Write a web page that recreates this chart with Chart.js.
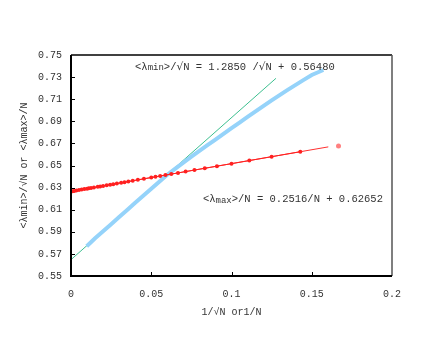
<!DOCTYPE html>
<html>
<head>
<meta charset="utf-8">
<script src="https://cdn.jsdelivr.net/npm/chart.js@4.4.0/dist/chart.umd.min.js"></script>
<style>
	html, body { margin: 0; padding: 0; background: #fff; }
	canvas { display: block; }
</style>
</head>
<body>
<canvas id="c" width="436" height="337"></canvas>
<script>
/* ---------- data ---------- */
// <lmax>/N against 1/N
const maxX = [0.142857, 0.125, 0.111111, 0.1, 0.090909, 0.083333, 0.076923, 0.071429, 0.066667, 0.0625,
	0.058824, 0.055556, 0.052632, 0.05, 0.045455, 0.041667, 0.038462, 0.035714, 0.033333, 0.03125,
	0.028571, 0.026316, 0.02439, 0.022222, 0.02, 0.018182, 0.016667, 0.014286, 0.0125, 0.011111,
	0.01, 0.008333, 0.006667, 0.005, 0.003333, 0.002, 0.001];
const maxY = [0.66246, 0.65797, 0.65448, 0.65168, 0.64939, 0.64749, 0.64587, 0.64449, 0.64329, 0.64225,
	0.64132, 0.6405, 0.63976, 0.6391, 0.63796, 0.637, 0.6362, 0.63551, 0.63491, 0.63438,
	0.63371, 0.63314, 0.63266, 0.63211, 0.63155, 0.6311, 0.63071, 0.63011, 0.62967, 0.62932,
	0.62904, 0.62862, 0.6282, 0.62778, 0.62736, 0.62702, 0.62677];
const maxOutX = [0.166667];
const maxOutY = [0.6676];
const maxFitX = [0, 0.1603];
const maxFitY = [0.62652, 0.66685];

// <lmin>/sqrt(N) against 1/sqrt(N)
const minX = [0.0098, 0.015, 0.02, 0.025, 0.03, 0.035, 0.04, 0.045, 0.05, 0.055,
	0.06, 0.065, 0.07, 0.075, 0.08, 0.085, 0.09, 0.095, 0.1, 0.105,
	0.11, 0.115, 0.12, 0.125, 0.13, 0.135, 0.14, 0.145, 0.15, 0.1572];
const minY = [0.5769, 0.5841, 0.5905, 0.5969, 0.6034, 0.6098, 0.6162, 0.6226, 0.629, 0.6354,
	0.6416, 0.6472, 0.6526, 0.6580, 0.6632, 0.6684, 0.6735, 0.6787, 0.6838, 0.6889,
	0.6940, 0.6990, 0.7040, 0.7089, 0.7137, 0.7184, 0.7230, 0.7275, 0.7319, 0.7364];
const minFitX = [0, 0.1277];
const minFitY = [0.5648, 0.7289];

const xTicks = [0, 0.05, 0.1, 0.15, 0.2];
const yTicks = [0.55, 0.57, 0.59, 0.61, 0.63, 0.65, 0.67, 0.69, 0.71, 0.73, 0.75];

const FONT = '"Liberation Mono", "DejaVu Sans Mono", monospace';
const TXT = '#333';

function pts(xs, ys) { return xs.map((x, i) => ({ x: x, y: ys[i] })); }

/* ---------- plugin: frame, inner ticks, fit labels ---------- */
const framePlugin = {
	id: 'frame',
	afterDatasetsDraw(chart) {
		const { ctx, chartArea: a, scales: { x, y } } = chart;
		ctx.save();
		ctx.strokeStyle = '#000';
		ctx.lineWidth = 1;
		xTicks.slice(1, -1).forEach(v => {
			const px = Math.round(x.getPixelForValue(v)) + 0.5;
			ctx.beginPath(); ctx.moveTo(px, a.bottom); ctx.lineTo(px, a.bottom - 4); ctx.stroke();
		});
		yTicks.slice(1, -1).forEach(v => {
			const py = Math.round(y.getPixelForValue(v)) + 0.5;
			ctx.beginPath(); ctx.moveTo(a.left, py); ctx.lineTo(a.left + 4, py); ctx.stroke();
		});
		ctx.lineWidth = 1.5;
		ctx.strokeStyle = '#000';
		ctx.beginPath();
		ctx.moveTo(a.left, a.top); ctx.lineTo(a.right, a.top);
		ctx.stroke();
		ctx.strokeStyle = '#555';
		ctx.beginPath();
		ctx.moveTo(a.right, a.top); ctx.lineTo(a.right, a.bottom);
		ctx.stroke();
		ctx.lineWidth = 2;
		ctx.strokeStyle = '#000';
		ctx.beginPath();
		ctx.moveTo(a.left, a.top); ctx.lineTo(a.left, a.bottom); ctx.lineTo(a.right, a.bottom);
		ctx.stroke();

		// fit equations
		drawEq(ctx, x.getPixelForValue(0.0399), y.getPixelForValue(0.7391), 'min', '>/√N = 1.2850 /√N + 0.56480');
		drawEq(ctx, x.getPixelForValue(0.0822), y.getPixelForValue(0.6194), 'max', '>/N = 0.2516/N + 0.62652');
		ctx.restore();
	}
};

// draws text piece by piece, the root sign in a font that has it
function drawRun(ctx, s, x, y, size) {
	s.split(/(√)/).forEach(part => {
		if (!part) return;
		ctx.font = size + 'px ' + (part === '√' ? '"DejaVu Sans"' : FONT);
		ctx.fillText(part, x, y);
		x += ctx.measureText(part).width;
	});
	return x;
}

function drawEq(ctx, x0, y0, sub, rest) {
	ctx.fillStyle = TXT;
	ctx.textBaseline = 'middle';
	ctx.textAlign = 'left';
	let x = drawRun(ctx, '<λ', x0, y0, 10.5);
	x = drawRun(ctx, sub, x, y0 + 1, 9);
	drawRun(ctx, rest, x, y0, 10.5);
}

/* ---------- chart ---------- */
window.addEventListener('DOMContentLoaded', function() {
	const ctx = document.getElementById('c').getContext('2d');
	new Chart(ctx, {
		type: 'scatter',
		data: {
			datasets: [
				{ data: pts(maxX, maxY), showLine: true, borderColor: '#ff2020', backgroundColor: '#ff2020',
					borderWidth: 1, pointRadius: 2, pointBorderWidth: 0 },
				{ data: pts(maxFitX, maxFitY), showLine: true, borderColor: '#ff3030', borderWidth: 1, pointRadius: 0 },
				{ data: pts(maxOutX, maxOutY), showLine: false, backgroundColor: '#ff8080', borderWidth: 0, pointRadius: 2.5 },
				{ data: pts(minX, minY), showLine: true, borderColor: '#95d3fa', borderWidth: 4, pointRadius: 0 },
				{ data: pts(minFitX, minFitY), showLine: true, borderColor: '#3cbf8f', borderWidth: 1, pointRadius: 0 }
			]
		},
		options: {
			responsive: false,
			animation: false,
			layout: { padding: { left: 0, top: 55, right: 44, bottom: 0 } },
			plugins: { legend: { display: false }, tooltip: { enabled: false } },
			scales: {
				x: {
					type: 'linear', min: 0, max: 0.2,
					afterBuildTicks: s => { s.ticks = xTicks.map(v => ({ value: v })); },
					afterFit: s => { s.height = 61; },
					grid: { display: false },
					border: { display: false },
					ticks: { color: TXT, font: { family: FONT, size: 10 }, padding: 4, maxRotation: 0,
						callback: v => String(+v.toFixed(2)) },
					title: { display: true, text: '1/√N or1/N', color: TXT, font: { family: FONT, size: 10 }, padding: { top: 0, bottom: 19 } }
				},
				y: {
					type: 'linear', min: 0.55, max: 0.75,
					afterBuildTicks: s => { s.ticks = yTicks.map(v => ({ value: v })); },
					afterFit: s => { s.width = 71; },
					grid: { display: false },
					border: { display: false },
					ticks: { color: TXT, font: { family: FONT, size: 10 }, padding: 1,
						callback: v => v.toFixed(2) },
					title: { display: true, text: '<λmin>/√N or <λmax>/N', color: TXT, font: { family: FONT, size: 10 }, padding: { top: 18, bottom: 0 } }
				}
			}
		},
		plugins: [framePlugin]
	});
});
</script>
</body>
</html>
